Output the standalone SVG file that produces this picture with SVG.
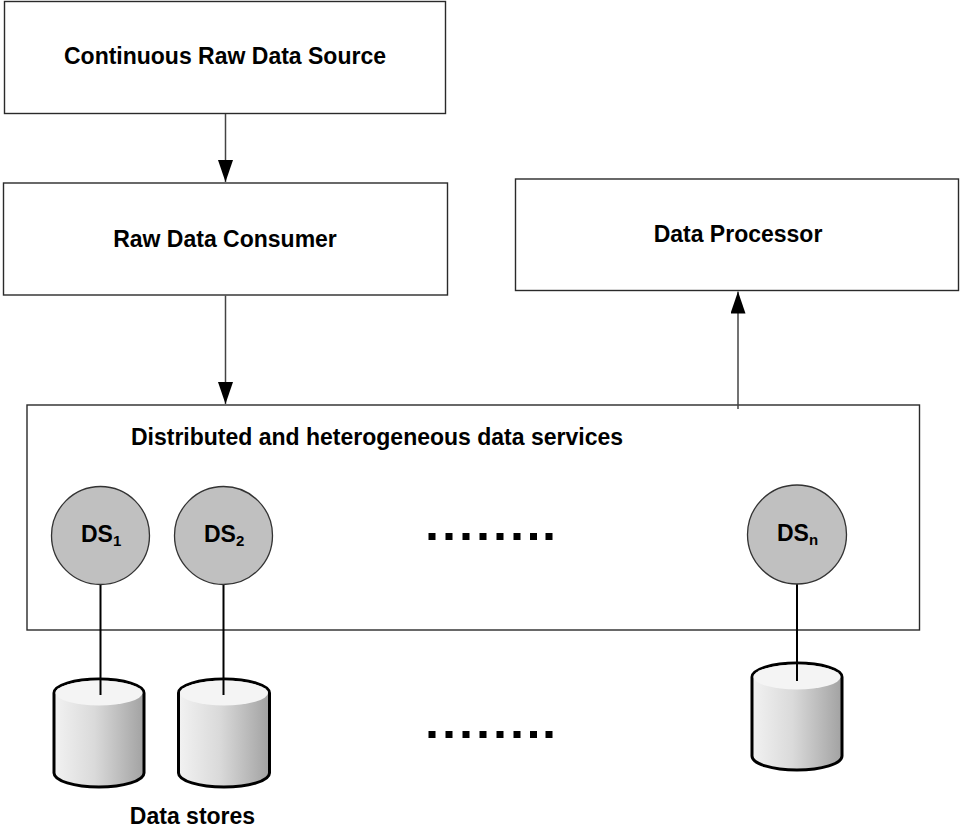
<svg xmlns="http://www.w3.org/2000/svg" width="960" height="829" viewBox="0 0 960 829">
<defs>
  <marker id="arr" viewBox="0 0 22 15" refX="22" refY="7.5" markerWidth="22" markerHeight="15" markerUnits="userSpaceOnUse" orient="auto">
    <path d="M0,0 L22,7.5 L0,15 Z" fill="#000"/>
  </marker>
  <linearGradient id="cylg" x1="0" y1="0" x2="1" y2="0">
    <stop offset="0" stop-color="#f2f2f2"/>
    <stop offset="0.45" stop-color="#dadada"/>
    <stop offset="1" stop-color="#a2a2a2"/>
  </linearGradient>
</defs>
<style>
  .box { fill: #fff; stroke: #2a2a2a; stroke-width: 1.4; }
  .lbl { font-family: "Liberation Sans", Arial, sans-serif; font-weight: bold; font-size: 23px; fill: #000; }
  .ds { fill: #c0c0c0; stroke: #333; stroke-width: 1.3; }
  .conn { stroke: #444; stroke-width: 1.5; fill: none; }
  .link { stroke: #000; stroke-width: 2; fill: none; }
  .cylbody { fill: url(#cylg); stroke: #000; stroke-width: 3; }
  .cyltop { fill: #f4f4f4; stroke: none; }
  .dot { fill: #000; }
</style>
<rect width="960" height="829" fill="#fff"/>

<g id="source">
  <rect class="box" x="4.5" y="1.5" width="441" height="112"/>
  <text class="lbl" x="225" y="64" text-anchor="middle">Continuous Raw Data Source</text>
</g>
<g id="consumer">
  <rect class="box" x="3.5" y="183" width="444" height="112"/>
  <text class="lbl" x="225" y="247" text-anchor="middle">Raw Data Consumer</text>
</g>
<g id="processor">
  <rect class="box" x="515.5" y="179" width="443" height="111.5"/>
  <text class="lbl" x="738" y="242" text-anchor="middle">Data Processor</text>
</g>
<g id="services">
  <rect class="box" x="27" y="405" width="892.5" height="225"/>
  <text class="lbl" x="377" y="445" text-anchor="middle">Distributed and heterogeneous data services</text>
</g>

<g id="store1">
  <path class="cylbody" d="M54,693 L54,773 A45,14 0 0 0 144,773 L144,693 A45,14 0 0 0 54,693 Z"/>
  <ellipse class="cyltop" cx="99" cy="693" rx="43.5" ry="12.5"/>
</g>
<g id="store2">
  <path class="cylbody" d="M178.5,693 L178.5,773 A45.5,14 0 0 0 269.5,773 L269.5,693 A45.5,14 0 0 0 178.5,693 Z"/>
  <ellipse class="cyltop" cx="224" cy="693" rx="44" ry="12.5"/>
</g>
<g id="storen">
  <path class="cylbody" d="M752,677 L752,756 A45,14 0 0 0 842,756 L842,677 A45,14 0 0 0 752,677 Z"/>
  <ellipse class="cyltop" cx="797" cy="677" rx="43.5" ry="12.5"/>
</g>

<g id="connectors">
  <line class="conn" x1="225.5" y1="114" x2="225.5" y2="182" marker-end="url(#arr)"/>
  <line class="conn" x1="225.5" y1="295.5" x2="225.5" y2="404" marker-end="url(#arr)"/>
  <line class="conn" x1="738" y1="409" x2="738" y2="291.5" marker-end="url(#arr)"/>
  <line class="link" x1="100.5" y1="584" x2="100.5" y2="695"/>
  <line class="link" x1="223.5" y1="584" x2="223.5" y2="695"/>
  <line class="link" x1="797" y1="584" x2="797" y2="681"/>
</g>

<g id="ds1">
  <circle class="ds" cx="100.5" cy="535.5" r="49"/>
  <text class="lbl" x="81" y="542" font-size="22">DS<tspan font-size="15" dy="4">1</tspan></text>
</g>
<g id="ds2">
  <circle class="ds" cx="223.5" cy="535.5" r="49"/>
  <text class="lbl" x="204" y="542" font-size="22">DS<tspan font-size="15" dy="4">2</tspan></text>
</g>
<g id="dsn">
  <circle class="ds" cx="797" cy="534.5" r="49.5"/>
  <text class="lbl" x="777" y="541" font-size="22">DS<tspan font-size="15" dy="4">n</tspan></text>
</g>

<g id="dots-top">
  <rect class="dot" x="428.5" y="533" width="7" height="7"/>
  <rect class="dot" x="445.5" y="533" width="7" height="7"/>
  <rect class="dot" x="462.5" y="533" width="7" height="7"/>
  <rect class="dot" x="479.5" y="533" width="7" height="7"/>
  <rect class="dot" x="496.5" y="533" width="7" height="7"/>
  <rect class="dot" x="513.5" y="533" width="7" height="7"/>
  <rect class="dot" x="530" y="533" width="7" height="7"/>
  <rect class="dot" x="545.5" y="533" width="7" height="7"/>
</g>
<g id="dots-bottom">
  <rect class="dot" x="428.5" y="731" width="7" height="7"/>
  <rect class="dot" x="445.5" y="731" width="7" height="7"/>
  <rect class="dot" x="462.5" y="731" width="7" height="7"/>
  <rect class="dot" x="479.5" y="731" width="7" height="7"/>
  <rect class="dot" x="496.5" y="731" width="7" height="7"/>
  <rect class="dot" x="513.5" y="731" width="7" height="7"/>
  <rect class="dot" x="530" y="731" width="7" height="7"/>
  <rect class="dot" x="545.5" y="731" width="7" height="7"/>
</g>

<g id="stores-label">
  <text class="lbl" x="192.5" y="824" text-anchor="middle">Data stores</text>
</g>
</svg>
